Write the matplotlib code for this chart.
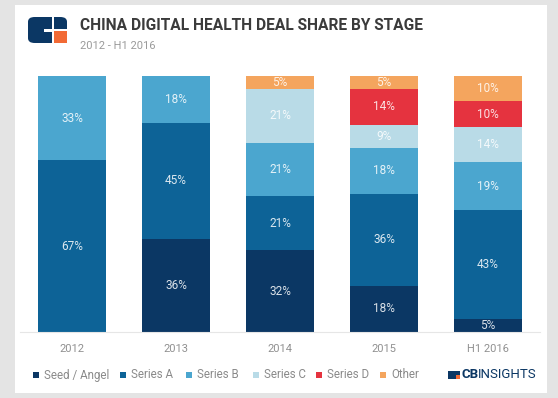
# China digital health deal share by stage, stacked 100% bars

import numpy as np
import matplotlib.pyplot as plt
from matplotlib.patches import Rectangle, FancyBboxPatch

years = ['2012', '2013', '2014', '2015', 'H1 2016']
stages = ['Seed / Angel', 'Series A', 'Series B', 'Series C', 'Series D', 'Other']

seed     = [0, 36, 32, 18, 5]
series_a = [67, 45, 21, 36, 43]
series_b = [33, 18, 21, 18, 19]
series_c = [0, 0, 21, 9, 14]
series_d = [0, 0, 0, 14, 10]
other    = [0, 0, 5, 5, 10]

colors = ['#0b3764', '#0d6397', '#4ba6cf', '#b9dbe7', '#e5333f', '#f4a55e']

W, H = 558, 398
fig = plt.figure(figsize=(W / 100, H / 100), dpi=100)
fig.patch.set_facecolor('#e4e4e4')

# white card
fig.add_artist(Rectangle((15 / W, 5 / H), 532 / W, 388 / H, transform=fig.transFigure,
                         facecolor='white', edgecolor='none', zorder=0))

ax = fig.add_axes([20 / W, 66 / H, 520 / W, 256 / H])
ax.set_facecolor('none')

data = np.array([seed, series_a, series_b, series_c, series_d, other], dtype=float)
totals = data.sum(axis=0)
heights = data / totals * 100          # bars are drawn full height
x = np.arange(len(years))
bottom = np.zeros(len(years))
for i in range(len(stages)):
    ax.bar(x, heights[i], 0.66, bottom=bottom, color=colors[i], linewidth=0)
    for j in range(len(years)):
        if data[i, j] > 0:
            ax.text(x[j], bottom[j] + heights[i, j] / 2, '%d%%' % data[i, j],
                    ha='center', va='center', fontsize=8.5, color='white',
                    alpha=0.85, family='Roboto')
    bottom += heights[i]

ax.set_xlim(-0.5, 4.5)
ax.set_ylim(0, 100)
for s in ['top', 'right', 'left']:
    ax.spines[s].set_visible(False)
ax.spines['bottom'].set_color('#e6e6e6')
ax.spines['bottom'].set_linewidth(0.8)
ax.set_yticks([])
ax.set_xticks(x)
ax.set_xticklabels(years, fontsize=8, color='#909090', family='Roboto')
ax.tick_params(axis='x', length=0, pad=9)

# header logo
def fig_rect(x0, y0, w, h, c):
    fig.add_artist(Rectangle((x0 / W, (H - y0 - h) / H), w / W, h / H,
                             transform=fig.transFigure, facecolor=c, edgecolor='none'))

fig.add_artist(FancyBboxPatch((28 / W, (H - 43) / H), 39 / W, 26 / H,
                              boxstyle='round,pad=0,rounding_size=0.012',
                              transform=fig.transFigure, facecolor='#0b3764',
                              edgecolor='none'))
fig_rect(54, 31, 13, 12, '#f26a35')
fig_rect(52, 17, 2, 26, 'white')
fig_rect(52, 29.5, 15, 1.5, 'white')
fig_rect(44, 28.5, 8, 3.5, 'white')

fig.text(80 / W, 1 - 25 / H, 'CHINA DIGITAL HEALTH DEAL SHARE BY STAGE',
         fontsize=11.2, fontweight='bold', color='#3b3b3b',
         family='Roboto', va='center')
fig.text(80 / W, 1 - 46 / H, '2012 - H1 2016', fontsize=8, color='#9a9a9a',
         family='Roboto', va='center')

# legend
leg_x = [33, 120, 186, 253, 316, 380]
ly = 375
for i, name in enumerate(stages):
    fig_rect(leg_x[i], ly - 3, 6, 6, colors[i])
    fig.text((leg_x[i] + 11) / W, 1 - ly / H, name, fontsize=8.3, color='#8a8a8a',
             family='Roboto', va='center')

# CB Insights mark
fig_rect(448, ly - 4, 12, 8, '#0b3764')
fig_rect(456, ly, 4, 4, '#f26a35')
fig.text(462 / W, 1 - ly / H, 'CB', fontsize=9.5, fontweight='bold', color='#0b3764',
         family='Roboto', va='center')
fig.text(478 / W, 1 - ly / H, 'INSIGHTS', fontsize=9.5, color='#0b3764',
         family='Roboto', va='center')

plt.savefig('out.png', dpi=100, facecolor=fig.get_facecolor())
